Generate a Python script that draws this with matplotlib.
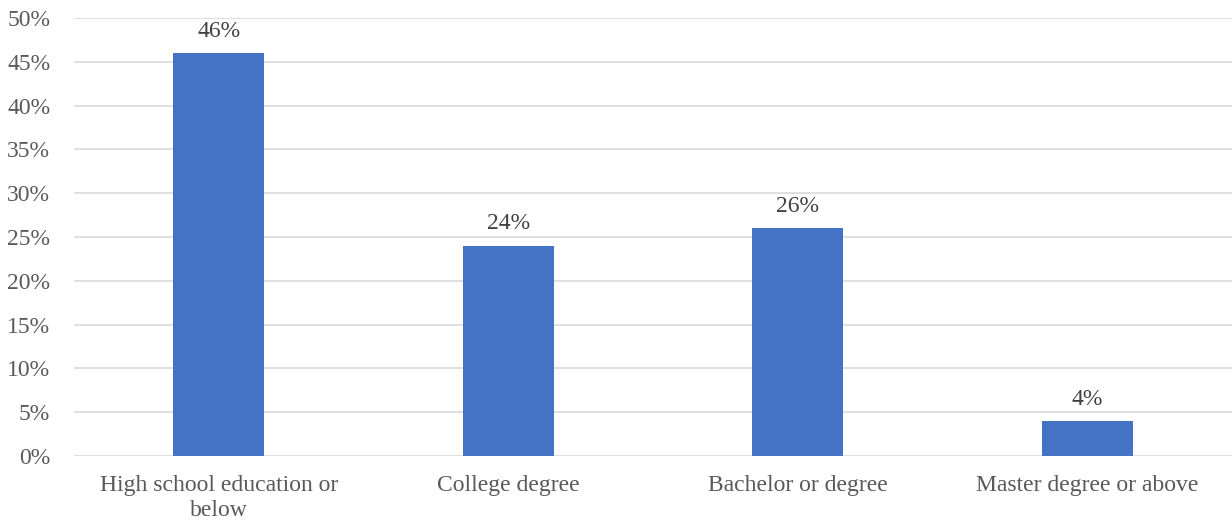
import matplotlib.pyplot as plt
from matplotlib.ticker import FuncFormatter

categories = ["High school education or\nbelow", "College degree",
              "Bachelor or degree", "Master degree or above"]
values = [46, 24, 26, 4]
yticks = [0, 5, 10, 15, 20, 25, 30, 35, 40, 45, 50]

plt.rcParams['font.family'] = ['Liberation Serif', 'DejaVu Serif']

fig = plt.figure(figsize=(12.32, 5.22), dpi=100)
ax = fig.add_axes([0.060, 0.1264, 0.940, 0.8391])

x = range(len(categories))
ax.bar(x, values, width=0.314, color="#4472C4", zorder=3)
for xi, v in zip(x, values):
    ax.text(xi, v + 1.3, f"{v}%", ha="center", va="bottom",
            fontsize=17, color="#404040")

ax.set_xlim(-0.5, 3.5)
ax.set_ylim(0, 50)
ax.set_yticks(yticks)
ax.yaxis.set_major_formatter(FuncFormatter(lambda v, p: f"{v:.0f}%"))
ax.set_xticks(list(x))
ax.set_xticklabels(categories, linespacing=1.2)
ax.grid(axis="y", color="#D9D9D9", linewidth=1.2, zorder=0)
for s in ax.spines.values():
    s.set_visible(False)
ax.tick_params(length=0, labelsize=17, labelcolor="#595959")
ax.tick_params(axis="x", pad=14)
ax.tick_params(axis="y", pad=17)

fig.savefig("out.png", dpi=100)
